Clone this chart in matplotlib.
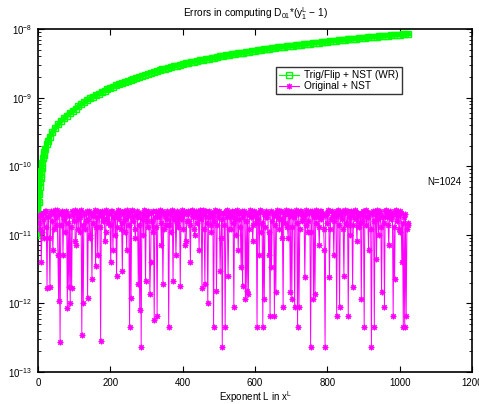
import numpy as np
import matplotlib
matplotlib.use("Agg")
import matplotlib.pyplot as plt

plt.rcParams["font.family"] = ["Liberation Sans", "DejaVu Sans"]
plt.rcParams["mathtext.fontset"] = "custom"
plt.rcParams["mathtext.rm"] = "Liberation Sans"
plt.rcParams["mathtext.it"] = "Liberation Sans"

# Trig/Flip + NST (WR): exponent L and error (x 1e-10)
green_L = [1, 2, 3, 4, 5, 6, 7, 8, 9, 10, 12, 14, 16, 18, 20, 24, 28, 32] + list(range(40, 1025, 8))
green_err = [
    0.1, 0.2, 0.3, 0.4, 0.5, 0.59, 0.68, 0.77, 0.86, 0.95, 1.12, 1.3, 1.45, 1.6, 1.78, 2.08, 2.37, 2.65,
    3.15, 3.62, 4.08, 4.55, 5.0, 5.48, 5.95, 6.42, 6.95, 7.5, 8.05, 8.6, 9.2, 9.75, 10.3, 10.9,
    11.5, 12.1, 12.7, 13.3, 13.9, 14.5, 15.1, 15.7, 16.3, 16.9, 17.5,
    18.2, 18.9, 19.6, 20.3, 21.0, 21.7, 22.4, 23.1, 23.8, 24.5, 25.2, 25.9, 26.6, 27.3, 28.0, 28.7,
    29.4, 30.1, 30.8, 31.5, 32.2, 32.9, 33.6, 34.3, 35.0, 35.7, 36.4, 37.1, 37.8, 38.5, 39.2, 39.9,
    40.6, 41.3, 42.0, 42.7, 43.4, 44.1, 44.8, 45.5, 46.2, 46.9, 47.6, 48.3, 49.0, 49.7, 50.4, 51.1,
    51.8, 52.5, 53.2, 53.9, 54.6, 55.3, 56.0, 56.7, 57.4, 58.1, 58.8, 59.5, 60.2, 60.9, 61.6, 62.3,
    63.0, 63.7, 64.4, 65.1, 65.8, 66.5, 67.2, 67.9, 68.6, 69.3, 70.0, 70.7, 71.4, 72.1, 72.8, 73.5,
    74.2, 74.9, 75.6, 76.3, 77.0, 77.7, 78.4, 79.1, 79.8, 80.5, 81.2, 81.9, 82.6, 83.3, 84.0, 84.7,
    85.4,
]

# Original + NST: error (x 1e-12); even and odd samples over L = 1..1024
magenta_even = [
    19, 12, 4, 21, 9, 22, 1.7, 18, 1.75, 22, 6, 20, 14, 23, 1.1, 0.27,
    21, 5, 19, 22, 0.85, 1.75, 1.0, 1.7, 20, 23, 7, 17, 22, 11, 0.35, 1.0,
    21, 16, 1.2, 22, 9, 2.3, 19, 23, 13, 5, 21, 0.28, 22, 17, 8, 23,
    15, 21, 4, 22, 18, 10, 2.5, 23, 20, 12, 3.0, 22, 17, 6, 21, 0.45,
    1.2, 23, 19, 9, 22, 1.9, 0.79, 0.23, 20, 23, 2.1, 16, 22, 1.35, 21, 11,
    0.57, 22, 0.66, 18, 23, 7, 1.9, 21, 14, 22, 0.45, 20, 23, 2.1, 17, 5,
    22, 19, 1.8, 23, 12, 21, 8, 22, 16, 4, 23, 20, 10, 22, 18, 6,
    21, 1.7, 23, 1.9, 19, 1.0, 22, 14, 21, 0.45, 23, 1.5, 18, 22, 9, 0.23,
    21, 0.45, 23, 2.5, 20, 12, 22, 0.9, 17, 23, 6, 21, 3.4, 1.8, 22, 1.15,
    1.5, 1.35, 23, 19, 8, 22, 15, 0.46, 21, 23, 11, 0.46, 1.15, 22, 18, 5,
    0.66, 3.4, 21, 0.66, 1.45, 23, 17, 22, 9, 0.9, 20, 23, 13, 22, 1.45, 1.15,
    21, 0.9, 23, 0.46, 0.9, 22, 16, 20, 2.4, 23, 11, 21, 0.23, 22, 1.15, 1.35,
    23, 18, 7, 22, 20, 12, 0.23, 21, 23, 2.4, 17, 22, 5, 21, 0.66, 23,
    0.9, 19, 22, 2.5, 23, 14, 0.66, 21, 22, 1.75, 18, 23, 8, 21, 15, 1.15,
    22, 0.46, 23, 19, 6, 21, 0.23, 22, 0.46, 20, 23, 10, 22, 1.45, 18, 0.9,
    23, 21, 7, 22, 19, 0.66, 2.3, 23, 21, 12, 22, 4, 0.46, 0.46, 0.66, 15,
]
magenta_odd = [
    15, 20, 11, 17, 22, 13, 19, 9, 21, 16, 12, 23, 18, 5, 20, 14,
    22, 17, 11, 20, 15, 19, 13, 22, 16, 8, 21, 12, 18, 23, 14, 20,
    12, 22, 17, 10, 20, 15, 21, 3.5, 18, 22, 13, 19, 16, 21, 11, 17,
    20, 14, 22, 6, 19, 21, 13, 17, 22, 15, 20, 11, 18, 23, 14, 19,
    22, 16, 12, 20, 18, 14, 21, 17, 10, 22, 19, 13, 21, 4, 16, 22,
    18, 13, 21, 20, 15, 22, 12, 19, 17, 21, 14, 11, 22, 18, 20, 15,
    13, 21, 17, 19, 22, 7, 16, 20, 14, 22, 18, 12, 21, 15, 19, 23,
    17, 20, 12, 22, 15, 18, 21, 11, 19, 16, 22, 14, 20, 3, 17, 21,
    14, 22, 18, 12, 21, 19, 15, 22, 10, 20, 17, 13, 22, 18, 21, 16,
    20, 12, 18, 22, 14, 19, 21, 17, 5, 22, 15, 20, 13, 18, 21, 11,
    22, 16, 19, 14, 21, 18, 12, 22, 17, 20, 15, 21, 9, 19, 22, 13,
    18, 21, 15, 20, 12, 22, 17, 19, 14, 21, 16, 22, 11, 20, 18, 15,
    21, 13, 22, 17, 19, 6, 20, 15, 22, 12, 18, 21, 16, 19, 22, 14,
    20, 17, 12, 21, 15, 22, 18, 10, 20, 14, 22, 17, 19, 13, 21, 16,
    19, 22, 14, 18, 21, 12, 20, 16, 22, 4.5, 17, 21, 13, 19, 15, 22,
    18, 14, 21, 17, 20, 13, 22, 16, 19, 11, 21, 15, 18, 20, 12, 14,
]

x_ticks = [0, 200, 400, 600, 800, 1000, 1200]

fig = plt.figure(figsize=(4.79, 4.04), dpi=100)
ax = fig.add_axes([0.0793, 0.0792, 0.9061, 0.8488])

gx = np.array(green_L)
gy = np.array(green_err) * 1e-10
my = np.column_stack([magenta_even, magenta_odd]).ravel() * 1e-12
mx = np.linspace(1, 1024, len(my))

ax.semilogy(gx, gy, color="#00ff00", marker="s", markersize=5, markerfacecolor="none",
            markeredgewidth=1.0, linewidth=3.6, label="Trig/Flip + NST (WR)", zorder=3)
ax.semilogy(mx, my, color="#ff00ff", marker=(8, 2, 0), markersize=4, markeredgewidth=0.8,
            linewidth=0.7, label="Original + NST", zorder=4)

ax.set_xlim(0, 1200)
ax.set_ylim(1e-13, 1e-8)
ax.set_xticks(x_ticks)
ax.tick_params(which="both", direction="in", top=True, right=True, labelsize=7, pad=4)
ax.tick_params(which="major", length=4, width=0.8)
ax.tick_params(which="minor", length=2, width=0.6)
for sp in ax.spines.values():
    sp.set_linewidth(1.2)

ax.set_title("Errors in computing D$_{01}$*(y$_1^L$ \u2212 1)", fontsize=7.3, pad=9)
ax.set_xlabel("Exponent L in x$^L$", fontsize=7, labelpad=1)
ax.text(0.896, 0.554, "N=1024", transform=ax.transAxes, fontsize=7, ha="left", va="center")

leg = ax.legend(loc="upper left", bbox_to_anchor=(0.548, 0.889), fontsize=7.3, frameon=True,
                fancybox=False, edgecolor="black", borderpad=0.3, labelspacing=0.1,
                handlelength=2.0, handletextpad=0.5, borderaxespad=0)
leg.get_frame().set_linewidth(1.0)
for h in leg.get_lines():
    h.set_linewidth(0.8)

fig.savefig("out.png", dpi=100)
